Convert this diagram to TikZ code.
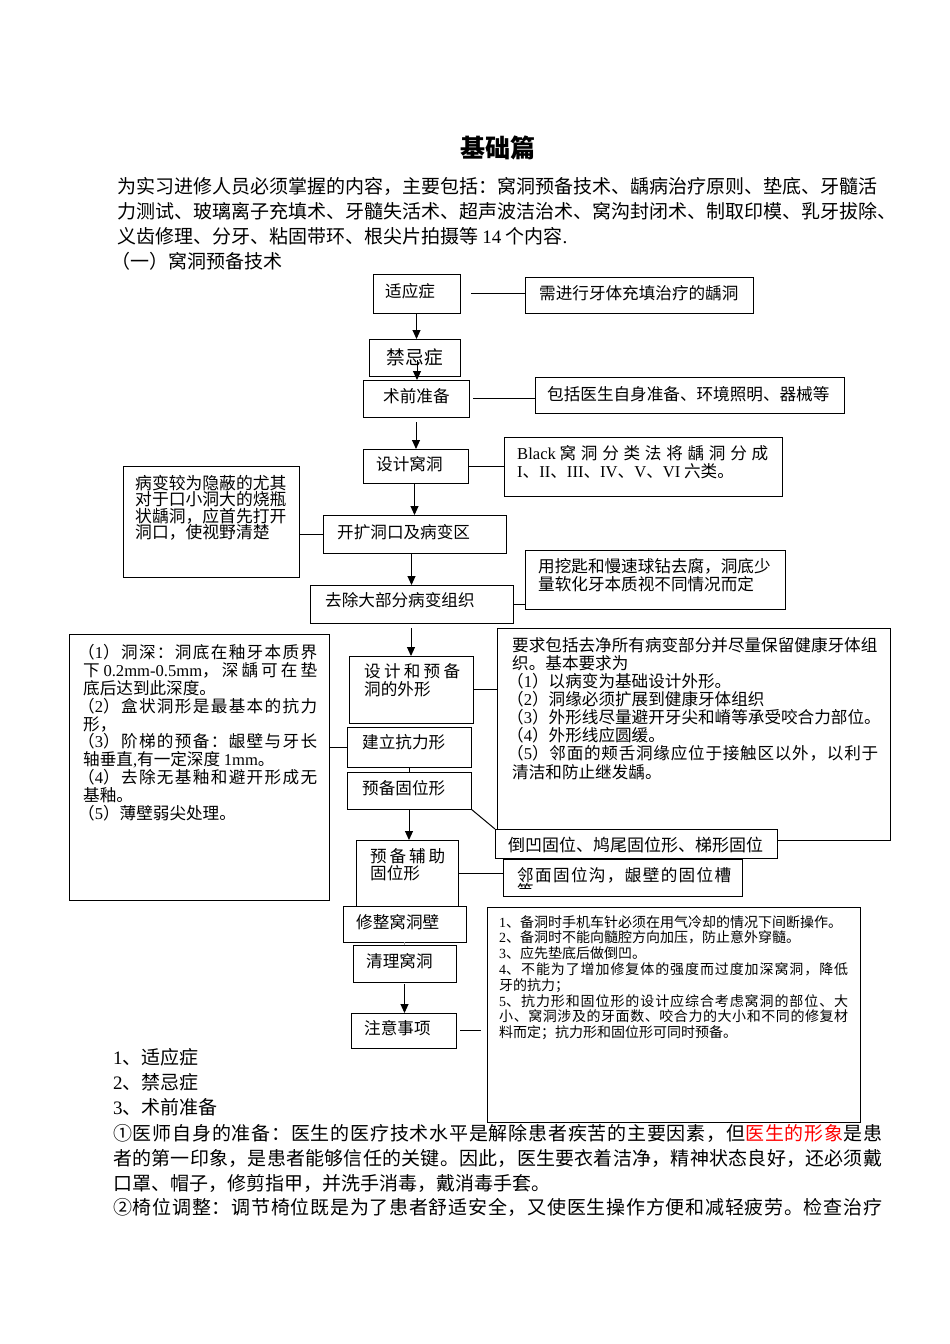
\documentclass[tikz,border=0pt]{standalone}
\usepackage{fontspec}
\setmainfont{Noto Sans CJK SC}
\newfontfamily\latf{Liberation Serif}
\usetikzlibrary{arrows.meta,fit,calc}
\newcommand\rmlat[1]{{\latf #1}}
% own character classes: 21 ideographs, 22 opening punctuation, 23 closing punctuation
\makeatletter
\count@="4E00
\loop \XeTeXcharclass\count@=21 \ifnum\count@<"9FFF \advance\count@ by 1 \repeat
\makeatother
\XeTeXcharclass"FF08=22
\XeTeXcharclass"3001=23
\XeTeXcharclass"3002=23
\XeTeXcharclass"FF0C=23
\XeTeXcharclass"FF1A=23
\XeTeXcharclass"FF1B=23
\XeTeXcharclass"FF09=23
\newcommand\cjkgl{\hskip 0pt plus 1fil\relax}
\XeTeXinterchartoks 21 21 = {\cjkgl}
\XeTeXinterchartoks 21 22 = {\cjkgl}
\XeTeXinterchartoks 21 23 = {\cjkgl}
\XeTeXinterchartoks 22 21 = {\cjkgl}
\XeTeXinterchartoks 23 21 = {\cjkgl}
\XeTeXinterchartoks 23 22 = {\cjkgl}
\XeTeXinterchartoks 23 23 = {\cjkgl}
\XeTeXinterchartoks 0 21 = {\cjkgl}
\XeTeXinterchartoks 21 0 = {\cjkgl}
\XeTeXinterchartoks 0 22 = {\cjkgl}
\XeTeXinterchartoks 23 0 = {\cjkgl}
\XeTeXinterchartoks 0 23 = {\cjkgl}
\newcommand\jl[2]{\makebox[#1][s]{\XeTeXinterchartokenstate=1 #2}}
\newcommand\szbody{\fontsize{19}{25}\selectfont}
\newcommand\szb{\fontsize{16.6}{18}\selectfont}
\newcommand\szs{\fontsize{14}{15.8}\selectfont}
\newcommand\pl{\hspace*{-5pt}}
\begin{document}
\begin{tikzpicture}[x=1pt,y=-1pt,
  box/.style={draw, fill=white, line width=1pt, inner sep=0pt, outer sep=0pt},
  txt/.style={inner sep=0pt, anchor=west, font=\szb},
  mtxt/.style={inner sep=0pt, anchor=north west, align=left, font=\szb},
  body/.style={inner sep=0pt, anchor=west, font=\szbody},
  ln/.style={line width=1pt},
  arr/.style={line width=1pt, -{Triangle[width=8pt,length=9pt]}}]
\useasboundingbox (0,0) rectangle (950,1344);

% ---------- title and introduction ----------
\node[inner sep=0pt, font=\fontsize{25}{30}\selectfont\bfseries] (title) at (498,148) {基础篇};
\node[body] (p1) at (117,186) {为实习进修人员必须掌握的内容，主要包括：窝洞预备技术、龋病治疗原则、垫底、牙髓活};
\node[body] (p2) at (117,211) {力测试、玻璃离子充填术、牙髓失活术、超声波洁治术、窝沟封闭术、制取印模、乳牙拔除、};
\node[body] (p3) at (117,236) {义齿修理、分牙、粘固带环、根尖片拍摄等 \rmlat{14} 个内容\rmlat{.}};
\node[body] (p4) at (111,261) {（一）窝洞预备技术};

% ---------- boxes ----------
\node[box, fit={(373,274) (460,313)}] (n1) {};
\node[box, fit={(525,277) (753,313)}] (n2) {};
\node[box, fit={(369,339) (460,376)}] (n3) {};
\node[box, fit={(363,380) (469,417)}] (n4) {};
\node[box, fit={(535,377) (844,413)}] (n5) {};
\node[box, fit={(363,449) (468,483)}] (n6) {};
\node[box, fit={(504,437) (782,496)}] (n7) {};
\node[box, fit={(123,466) (299,577)}] (n8) {};
\node[box, fit={(323,515) (506,553)}] (n9) {};
\node[box, fit={(310,585) (513,623)}] (n10) {};
\node[box, fit={(525,550) (785,609)}] (n11) {};
\node[box, fit={(349,656) (473,723)}] (n12) {};
\node[box, fit={(497,628) (890,840)}] (n13) {};
\node[box, fit={(69,634) (329,900)}] (n14) {};
\node[box, fit={(347,727) (471,767)}] (n15) {};
\node[box, fit={(347,772) (471,809)}] (n16) {};
\node[box, fit={(495,829) (777,858)}] (n17) {};
\node[box, fit={(356,840) (458,906)}] (n18) {};
\node[box, fit={(503,859) (742,896)}] (n19) {};
\node[box, fit={(343,906) (466,942)}] (n20) {};
\node[box, fit={(353,945) (456,982)}] (n21) {};
\node[box, fit={(351,1013) (456,1048)}] (n22) {};
\node[box, fit={(487,907) (860,1122)}] (n23) {};

% ---------- box texts ----------
\node[txt] (t1) at (385,291) {适应症};
\node[txt] (t2) at (539,293) {需进行牙体充填治疗的龋洞};
\node[inner sep=0pt, font=\fontsize{18.7}{20}\selectfont] (t3) at (415,357) {禁忌症};
\node[txt] (t4) at (383,396) {术前准备};
\node[txt] (t5) at (547,394) {包括医生自身准备、环境照明、器械等};
\node[txt] (t6) at (376,464) {设计窝洞};
\node[mtxt] (t7) at (517,445) {\jl{251pt}{\rmlat{Black} 窝洞分类法将龋洞分成}\\
  \rmlat{I}、\rmlat{II}、\rmlat{III}、\rmlat{IV}、\rmlat{V}、\rmlat{VI} 六类。};
\node[mtxt, font=\fontsize{16.8}{16.5}\selectfont] (t8) at (135,475) {病变较为隐蔽的尤其\\对于口小洞大的烧瓶\\状龋洞，应首先打开\\洞口，使视野清楚};
\node[txt] (t9) at (337,532) {开扩洞口及病变区};
\node[txt] (t10) at (325,600) {去除大部分病变组织};
\node[mtxt] (t11) at (538,558) {用挖匙和慢速球钻去腐，洞底少\\量软化牙本质视不同情况而定};
\node[mtxt] (t12) at (364,663) {\jl{96pt}{设计和预备}\\洞的外形};
\node[mtxt, font=\fontsize{16.6}{18.1}\selectfont] (t13) at (512,637) {要求包括去净所有病变部分并尽量保留健康牙体组\\
  织。基本要求为\\
  \pl（\rmlat{1}）以病变为基础设计外形。\\
  \pl（\rmlat{2}）洞缘必须扩展到健康牙体组织\\
  \pl（\rmlat{3}）外形线尽量避开牙尖和嵴等承受咬合力部位。\\
  \pl（\rmlat{4}）外形线应圆缓。\\
  \pl\jl{371pt}{（\rmlat{5}）邻面的颊舌洞缘应位于接触区以外，以利于}\\
  清洁和防止继发龋。};
\node[mtxt, font=\fontsize{16.6}{17.9}\selectfont] (t14) at (83,644) {\pl\jl{239pt}{（\rmlat{1}）洞深：洞底在釉牙本质界}\\
  \jl{234pt}{下 \rmlat{0.2mm-0.5mm}，深龋可在垫}\\
  底后达到此深度。\\
  \pl\jl{239pt}{（\rmlat{2}）盒状洞形是最基本的抗力}\\
  形，\\
  \pl\jl{239pt}{（\rmlat{3}）阶梯的预备：龈壁与牙长}\\
  轴垂直\rmlat{,}有一定深度 \rmlat{1mm}。\\
  \pl\jl{239pt}{（\rmlat{4}）去除无基釉和避开形成无}\\
  基釉。\\
  \pl（\rmlat{5}）薄壁弱尖处理。};
\node[txt] (t15) at (362,742) {建立抗力形};
\node[txt] (t16) at (362,788) {预备固位形};
\node[txt, font=\fontsize{17}{18}\selectfont] (t17) at (508,845) {倒凹固位、鸠尾固位形、梯形固位};
\node[mtxt, font=\fontsize{16.6}{17}\selectfont] (t18) at (370,848) {\jl{75pt}{预备辅助}\\固位形};
\begin{scope}
  \clip (n19.north west) rectangle ([yshift=8pt]n19.south east);
  \node[mtxt, font=\fontsize{16.6}{16}\selectfont] (t19) at (517,867) {\jl{214pt}{邻面固位沟，龈壁的固位槽}\\等};
\end{scope}
\node[txt] (t20) at (356,922) {修整窝洞壁};
\node[txt] (t21) at (366,961) {清理窝洞};
\node[txt] (t22) at (364,1028) {注意事项};
\node[mtxt, font=\szs] (t23) at (499,915) {\rmlat{1}、备洞时手机车针必须在用气冷却的情况下间断操作。\\
  \rmlat{2}、备洞时不能向髓腔方向加压，防止意外穿髓。\\
  \rmlat{3}、应先垫底后做倒凹。\\
  \jl{349pt}{\rmlat{4}、不能为了增加修复体的强度而过度加深窝洞，降低}\\
  牙的抗力；\\
  \jl{349pt}{\rmlat{5}、抗力形和固位形的设计应综合考虑窝洞的部位、大}\\
  \jl{349pt}{小、窝洞涉及的牙面数、咬合力的大小和不同的修复材}\\
  料而定；抗力形和固位形可同时预备。};

% ---------- connectors ----------
\draw[ln] ([xshift=11pt]n1.east) -- (n1.east -| n2.west);
\draw[arr] (n1.south) -- (n1.south |- n3.north);
\coordinate (c1) at (417,360);
\draw[arr] (c1) -- (c1 |- n4.north);
\draw[ln] ([xshift=4pt]n4.east) -- (n4.east -| n5.west);
\draw[arr] ([yshift=-5pt]n4.south) -- (n4.south |- n6.north);
\draw[ln] (n6.east) -- (n6.east -| n7.west);
\draw[arr] (n9.north |- n6.south) -- (n9.north);
\draw[ln] (n9.west -| n8.east) -- (n9.west);
\draw[arr] (n10.north |- n9.south) -- (n10.north);
\draw[ln] (n10.east) -- (n10.east -| n11.west);
\draw[arr] ($(n12.north |- n10.south)+(0,5)$) -- (n12.north);
\draw[ln] (n12.east) -- (n12.east -| n13.west);
\draw[ln] (n15.west -| n14.east) -- (n15.west);
\draw[ln] (n15.south) -- (n15.south |- n16.north);
\draw[ln] (n16.south east) -- (n17.north west);
\draw[arr] (n16.south) -- (n16.south |- n18.north);
\draw[ln] (n18.east) -- (n18.east -| n19.west);
\draw[line width=0.6pt, black!35] (n21.north) -- (n21.north |- n20.south);
\draw[arr] ([yshift=-2pt]n21.south) -- (n21.south |- n22.north);
\draw[ln] ([xshift=4pt]n22.east) -- ($(n22.east -| n23.west)+(-6,0)$);

% ---------- closing text ----------
\node[body] (b1) at (113,1057) {\rmlat{1}、适应症};
\node[body] (b2) at (113,1082) {\rmlat{2}、禁忌症};
\node[body] (b3) at (113,1107) {\rmlat{3}、术前准备};
\node[body] (b4) at (113,1133) {\jl{769pt}{①医师自身的准备：医生的医疗技术水平是解除患者疾苦的主要因素，但\textcolor{red}{医生的形象}是患}};
\node[body] (b5) at (113,1158) {\jl{769pt}{者的第一印象，是患者能够信任的关键。因此，医生要衣着洁净，精神状态良好，还必须戴}};
\node[body] (b6) at (113,1183) {口罩、帽子，修剪指甲，并洗手消毒，戴消毒手套。};
\node[body] (b7) at (113,1207) {\jl{769pt}{②椅位调整：调节椅位既是为了患者舒适安全，又使医生操作方便和减轻疲劳。检查治疗}};
\end{tikzpicture}
\end{document}
